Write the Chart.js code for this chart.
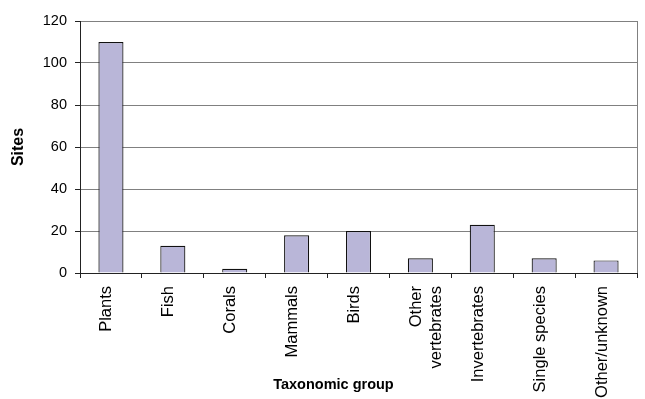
<!DOCTYPE html>
<html>
<head>
<meta charset="utf-8">
<script src="https://cdn.jsdelivr.net/npm/chart.js@4.4.1/dist/chart.umd.min.js"></script>
<style>
  html, body { margin: 0; padding: 0; background: #ffffff; }
  #wrap { width: 645px; height: 399px; }
</style>
</head>
<body>
<div id="wrap"><canvas id="chart" width="645" height="399"></canvas></div>
<script>
// Number of sites per taxonomic group
const categories = [
  'Plants', 'Fish', 'Corals', 'Mammals', 'Birds',
  ['Other', 'vertebrates'], 'Invertebrates', 'Single species', 'Other/unknown'
];
const siteCounts = [110, 13, 2, 18, 20, 7, 23, 7, 6];
const yTicks = [0, 20, 40, 60, 80, 100, 120];

const FONT = "'Liberation Sans', Arial, Helvetica, sans-serif";

// Frame line on the right edge of the plot area, plus the x-axis caption
const framePlugin = {
  id: 'frame',
  afterDraw(chart) {
    const { ctx, chartArea } = chart;
    ctx.save();
    ctx.strokeStyle = '#808080';
    ctx.lineWidth = 1;
    ctx.beginPath();
    ctx.moveTo(chartArea.right + 0.5, chartArea.top);
    ctx.lineTo(chartArea.right + 0.5, chartArea.bottom);
    ctx.stroke();

    ctx.fillStyle = '#000';
    ctx.font = 'bold 14.5px ' + FONT;
    ctx.textAlign = 'center';
    ctx.textBaseline = 'middle';
    const cx = chartArea.left + (chartArea.right - chartArea.left) * 0.455;
    ctx.fillText('Taxonomic group', cx, chartArea.bottom + 112);
    ctx.restore();
  }
};

new Chart(document.getElementById('chart'), {
  type: 'bar',
  data: {
    labels: categories,
    datasets: [{
      label: 'Sites',
      data: siteCounts,
      backgroundColor: '#b9b6d8',
      borderColor: '#111111',
      borderWidth: 1.2,
      borderSkipped: 'bottom',
      categoryPercentage: 1,
      barPercentage: 0.405
    }]
  },
  options: {
    responsive: false,
    devicePixelRatio: 1,
    animation: false,
    layout: { padding: { top: 21, right: 8, bottom: 0, left: 0 } },
    plugins: {
      legend: { display: false },
      tooltip: { enabled: false }
    },
    scales: {
      x: {
        offset: true,
        grid: {
          offset: true,
          drawOnChartArea: false,
          drawTicks: true,
          tickLength: 5,
          tickColor: '#222222'
        },
        border: { display: true, color: '#222222', width: 1 },
        ticks: {
          autoSkip: false,
          minRotation: 90,
          maxRotation: 90,
          padding: 8,
          labelOffset: -4,
          color: '#000',
          font: { family: FONT, size: 16.5 }
        },
        afterFit(scale) { scale.height = 126; }
      },
      y: {
        min: 0,
        max: 120,
        afterBuildTicks(scale) { scale.ticks = yTicks.map(v => ({ value: v })); },
        grid: {
          color: '#808080',
          lineWidth: 1,
          drawTicks: true,
          tickLength: 5,
          tickColor: '#222222'
        },
        border: { display: true, color: '#222222', width: 1 },
        ticks: {
          padding: 8,
          color: '#000',
          font: { family: FONT, size: 14.5 }
        },
        title: {
          display: true,
          text: 'Sites',
          color: '#000',
          padding: { top: 9, bottom: 0 },
          font: { family: FONT, size: 16, weight: 'bold' }
        },
        afterFit(scale) { scale.width = 80; }
      }
    }
  },
  plugins: [framePlugin]
});
</script>
</body>
</html>
